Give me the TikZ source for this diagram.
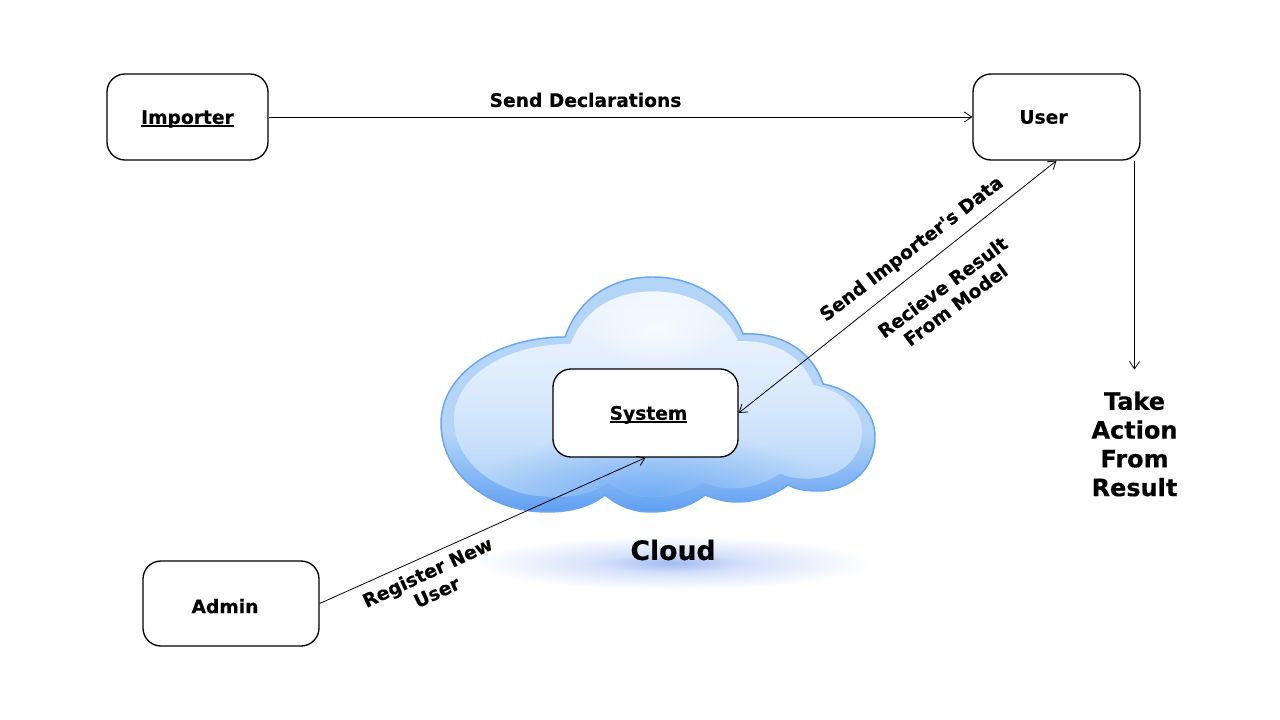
\documentclass[tikz,border=0pt]{standalone}
\usepackage{fontspec}
\setmainfont[BoldFeatures={FakeBold=0.25}]{DejaVu Sans}
\newfontfamily\plainsans[BoldFeatures={FakeBold=0.25}]{DejaVu Sans}
\usetikzlibrary{arrows.meta,fadings,calc}
\definecolor{rimtop}{HTML}{B4D5F7}
\definecolor{rimbot}{HTML}{5F9FF2}
\definecolor{rimline}{HTML}{69A6F0}
\definecolor{inA}{HTML}{F1F7FE}
\definecolor{inB}{HTML}{DCEBFC}
\definecolor{inC}{HTML}{C8E0FA}
\definecolor{inD}{HTML}{A9CFF8}
\definecolor{glowc}{HTML}{5D9FF3}
\definecolor{shadA}{HTML}{A2BBF4}
\definecolor{shadB}{HTML}{D5E0FA}
\pgfdeclareverticalshading{rimshade}{100bp}{color(0bp)=(rimbot); color(25bp)=(rimbot); color(42bp)=(rimtop); color(75bp)=(rimtop); color(100bp)=(rimtop)}
\pgfdeclareverticalshading{innershade}{100bp}{color(0bp)=(inD); color(25bp)=(inD); color(38bp)=(inC); color(52bp)=(inB); color(75bp)=(inA); color(100bp)=(inA)}
\pgfdeclareradialshading{groundglow}{\pgfpointorigin}{color(0bp)=(shadA); color(9bp)=(shadB); color(25bp)=(white); color(50bp)=(white)}
\tikzfading[name=softglow, inner color=transparent!25, outer color=transparent!100]
\tikzfading[name=softlight, inner color=transparent!35, outer color=transparent!100]
\newcommand\ulab[1]{\setbox0\hbox{#1}\rlap{\rule[-2.3pt]{\wd0}{1.1pt}}\box0}
\tikzset{
  x=0.75pt,y=-0.75pt,
  box/.style={draw=black,line width=1pt,rounded corners=13.5pt,fill=white,inner sep=0pt,font=\fontsize{14}{16}\selectfont\bfseries},
  lbl/.style={font=\fontsize{14}{16.5}\selectfont\bfseries,align=center,inner sep=0pt},
  big/.style={font=\fontsize{18}{21.6}\selectfont\bfseries,align=center,inner sep=0pt},
  link/.style={draw=black,line width=0.6pt,-{Straight Barb[length=5.5pt,width=7.5pt,line width=0.6pt]}},
  both/.style={link,{Straight Barb[length=5.5pt,width=7.5pt,line width=0.6pt]}-{Straight Barb[length=5.5pt,width=7.5pt,line width=0.6pt]}}
}
\def\cloudshape{(565,337) .. controls (580,295) and (615,277) .. (653,277)
 .. controls (695,277) and (730,300) .. (743,334)
 .. controls (780,332) and (812,350) .. (823,384)
 .. controls (855,390) and (875,412) .. (875,437)
 .. controls (875,470) and (850,491) .. (817,491)
 .. controls (805,491) and (795,489) .. (788,485)
 .. controls (770,498) and (752,502) .. (737,502)
 .. controls (725,502) and (715,499) .. (705,495)
 .. controls (690,507) and (670,512) .. (650,512)
 .. controls (632,512) and (617,505) .. (605,495)
 .. controls (590,507) and (570,512) .. (547,512)
 .. controls (490,512) and (441,475) .. (441,423)
 .. controls (441,375) and (495,337) .. (565,337) -- cycle}
\begin{document}
\begin{tikzpicture}
\useasboundingbox (0,0) rectangle (1280,720);
\fill[white] (0,0) rectangle (1280,720);
% ground shadow
\shade[shading=groundglow] (672,563) ellipse [x radius=200,y radius=27];
% cloud
\shade[shading=rimshade,draw=rimline,line width=1.1pt] \cloudshape;
\begin{scope}[shift={(658,392)},xscale=0.94,yscale=0.875,shift={(-658,-392)}]
  \shade[shading=innershade] \cloudshape;
  \clip \cloudshape;
  \fill[glowc,path fading=softglow] (650,515) ellipse [x radius=190,y radius=80];
  \fill[white,path fading=softlight] (655,320) ellipse [x radius=75,y radius=45];
\end{scope}
% boxes
\node[box,minimum width=161pt*0.75,minimum height=86pt*0.75] (importer) at (187.5,117) {\rule{0pt}{13.2pt}\ulab{Importer}};
\node[box,minimum width=167pt*0.75,minimum height=86pt*0.75] (user) at (1056.5,117) {\hspace*{-19.5pt}User};
\node[box,minimum width=185pt*0.75,minimum height=88pt*0.75] (system) at (645.5,413) {\hspace*{4.5pt}\rule{0pt}{13.2pt}\ulab{System}};
\node[box,minimum width=176pt*0.75,minimum height=85pt*0.75] (admin) at (231,603.5) {\hspace*{-9pt}\rule{0pt}{14.7pt}Admin};
% free-standing text
\node[big,outer sep=16.5pt] (take) at (1134.5,444) {Take\\Action\\From\\Result};
\node[font=\fontsize{20}{24}\selectfont\bfseries,inner sep=0pt] (cloudtext) at (673,550) {Cloud};
% connectors
\draw[link] (importer.east) -- (user.west);
\draw[both] (user.south) -- (system.east);
\draw[link] (admin.east) -- (system.south);
\draw[link] (take.north |- user.south) -- (take.north);
% connector labels
\node[lbl] (l1) at (585.5,100) {Send Declarations};
\node[lbl,rotate=37.5] (l2) at (912,249.5) {\plainsans\bfseries Send Importer's Data};
\node[lbl,rotate=36.5] (l3) at (949,296) {Recieve Result\\From Model};
\node[lbl,rotate=25] (l4) at (432,582) {Register New\\User};
\end{tikzpicture}
\end{document}
